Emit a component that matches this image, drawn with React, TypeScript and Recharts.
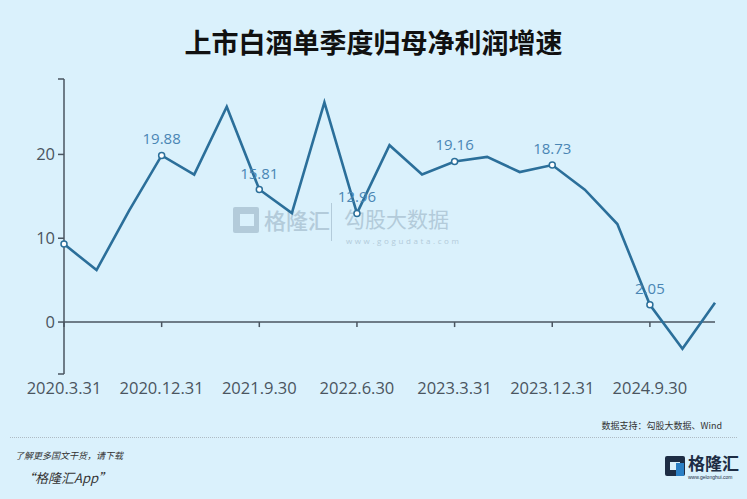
import { LineChart, Line, XAxis, YAxis, ReferenceLine, LabelList } from "recharts";

const quarters = [
  "2020.3.31", "2020.6.30", "2020.9.30", "2020.12.31",
  "2021.3.31", "2021.6.30", "2021.9.30", "2021.12.31",
  "2022.3.31", "2022.6.30", "2022.9.30", "2022.12.31",
  "2023.3.31", "2023.6.30", "2023.9.30", "2023.12.31",
  "2024.3.31", "2024.6.30", "2024.9.30", "2024.12.31",
  "2025.3.31",
];
const growth = [
  9.3, 6.2, 13.3, 19.88,
  17.6, 25.7, 15.81, 13.0,
  26.2, 12.96, 21.1, 17.6,
  19.16, 19.7, 17.9, 18.73,
  15.8, 11.7, 2.05, -3.2,
  2.3,
];
const markedQuarters = ["2020.3.31", "2020.12.31", "2021.9.30", "2022.6.30", "2023.3.31", "2023.12.31", "2024.9.30"];
const labelledQuarters = ["2020.12.31", "2021.9.30", "2022.6.30", "2023.3.31", "2023.12.31", "2024.9.30"];
const yTicks = [-6.2, 0, 10, 20, 29];
const yLabels = [0, 10, 20];

const data = quarters.map((q, i) => ({ q, v: growth[i] }));

const BG = "#daf1fc";
const LINE = "#2b6f9a";
const AXIS = "#4a5560";
const LABEL = "#4a86b4";
const WM = "#b3cbda";

function Dot(props: any) {
  const { cx, cy, payload } = props;
  if (!markedQuarters.includes(payload.q)) return null;
  return <circle cx={cx} cy={cy} r={3} fill="#fff" stroke={LINE} strokeWidth={1.5} />;
}

function PointLabel(props: any) {
  const { x, y, index, value } = props;
  if (!labelledQuarters.includes(quarters[index])) return null;
  return (
    <text x={x} y={y - 11} textAnchor="middle" fill={LABEL} fontSize={15} fontFamily="'Open Sans', 'Noto Sans', sans-serif">
      {value.toFixed(2)}
    </text>
  );
}

export default function App() {
  return (
    <div style={{ position: "fixed", left: 0, top: 0, width: 747, height: 499, background: BG, overflow: "hidden", fontFamily: "'Noto Sans CJK SC', sans-serif" }}>
      <div style={{ position: "absolute", top: 22, width: 747, textAlign: "center", fontSize: 27, fontWeight: 700, color: "#111" }}>
        上市白酒单季度归母净利润增速
      </div>

      {/* watermark */}
      <div style={{ position: "absolute", left: 233, top: 207, width: 26, height: 26, background: WM, borderRadius: 2 }} />
      <div style={{ position: "absolute", left: 240, top: 214, width: 14, height: 12, background: BG }} />
      <div style={{ position: "absolute", left: 264, top: 203, fontSize: 22, color: WM, fontWeight: 500 }}>格隆汇</div>
      <div style={{ position: "absolute", left: 331, top: 203, width: 1, height: 38, background: WM }} />
      <div style={{ position: "absolute", left: 344, top: 203, fontSize: 21, color: WM }}>勾股大数据</div>
      <div style={{ position: "absolute", left: 346, top: 235, fontSize: 8, color: WM, letterSpacing: 2.6, fontFamily: "'Open Sans', sans-serif" }}>www.gogudata.com</div>

      <div style={{ position: "absolute", left: 0, top: 0 }}>
        <LineChart width={747} height={420} data={data} margin={{ top: 79, right: 32, bottom: 14, left: 34 }}>
          <XAxis
            dataKey="q"
            interval={2}
            axisLine={false}
            tickLine={false}
            tickSize={0}
            tickMargin={8}
            height={32}
            tick={{ fill: AXIS, fontSize: 16.5, fontFamily: "'Open Sans', 'Noto Sans', sans-serif" }}
          />
          <YAxis
            type="number"
            domain={[-6.2, 29]}
            ticks={yTicks}
            width={30}
            axisLine={{ stroke: AXIS, strokeWidth: 1.5 }}
            tickLine={{ stroke: AXIS, strokeWidth: 1.5 }}
            tickSize={6}
            tickMargin={3}
            tickFormatter={(t: number) => (yLabels.includes(t) ? String(t) : "")}
            tick={{ fill: AXIS, fontSize: 16.5, fontFamily: "'Open Sans', 'Noto Sans', sans-serif" }}
          />
          <ReferenceLine y={0} stroke={AXIS} strokeWidth={1.5} />
          {markedQuarters.map((q) => (
            <ReferenceLine key={q} segment={[{ x: q, y: 0 }, { x: q, y: -0.6 }]} stroke={AXIS} strokeWidth={1.5} />
          ))}
          <Line
            type="linear"
            dataKey="v"
            stroke={LINE}
            strokeWidth={2.6}
            dot={<Dot />}
            activeDot={false}
            isAnimationActive={false}
          >
            <LabelList dataKey="v" content={<PointLabel />} />
          </Line>
        </LineChart>
      </div>

      <div style={{ position: "absolute", right: 25, top: 419, fontSize: 9, color: "#333" }}>数据支持：勾股大数据、Wind</div>
      <div style={{ position: "absolute", left: 10, top: 437, width: 727, borderTop: "1.5px dotted #aebbc4" }} />
      <div style={{ position: "absolute", left: 15, top: 449, fontSize: 9, color: "#333", fontStyle: "italic" }}>了解更多国文干货，请下载</div>
      <div style={{ position: "absolute", left: 22, top: 468, fontSize: 13, color: "#333", fontStyle: "italic" }}>“格隆汇App”</div>

      {/* logo bottom right */}
      <div style={{ position: "absolute", left: 665, top: 456, width: 20, height: 20, background: "#1d2d44", borderRadius: 2 }} />
      <div style={{ position: "absolute", left: 670, top: 462, width: 10, height: 8, background: BG }} />
      <div style={{ position: "absolute", left: 676, top: 463, width: 8, height: 13, background: "#2b7fc4" }} />
      <div style={{ position: "absolute", left: 688, top: 454, fontSize: 17, fontWeight: 700, color: "#1d2d44", lineHeight: "18px" }}>格隆汇</div>
      <div style={{ position: "absolute", left: 688, top: 474, fontSize: 5, color: "#1d2d44", fontFamily: "sans-serif", lineHeight: "6px" }}>www.gelonghui.com</div>
    </div>
  );
}
